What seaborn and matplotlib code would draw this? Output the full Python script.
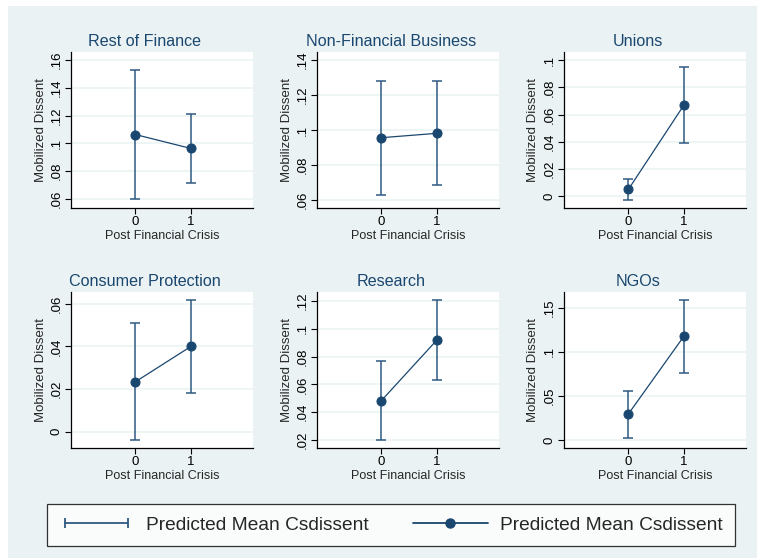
import matplotlib
matplotlib.use("Agg")
import matplotlib.pyplot as plt
import seaborn as sns
import pandas as pd
from matplotlib.patches import Rectangle
from matplotlib.lines import Line2D
from matplotlib.legend_handler import HandlerLine2D

# panel titles
panels = ["Rest of Finance", "Non-Financial Business", "Unions",
          "Consumer Protection", "Research", "NGOs"]

crisis = [0, 1]

# predicted means (pre, post)
means = [[0.1064, 0.0964],
         [0.0956, 0.0981],
         [0.0051, 0.0669],
         [0.0234, 0.0400],
         [0.0483, 0.0919],
         [0.0297, 0.1176]]

# confidence intervals
lower = [[0.0600, 0.0717],
         [0.0630, 0.0684],
         [-0.0026, 0.0395],
         [-0.0040, 0.0183],
         [0.0198, 0.0630],
         [0.0026, 0.0765]]
upper = [[0.1529, 0.1212],
         [0.1280, 0.1280],
         [0.0127, 0.0947],
         [0.0509, 0.0619],
         [0.0771, 0.1205],
         [0.0561, 0.1586]]

# y ticks and labels per panel
yticks = [[0.06, 0.08, 0.10, 0.12, 0.14, 0.16],
          [0.06, 0.08, 0.10, 0.12, 0.14],
          [0, 0.02, 0.04, 0.06, 0.08, 0.10],
          [0, 0.02, 0.04, 0.06],
          [0.02, 0.04, 0.06, 0.08, 0.10, 0.12],
          [0, 0.05, 0.10, 0.15]]
ylabels = [[".06", ".08", ".1", ".12", ".14", ".16"],
           [".06", ".08", ".1", ".12", ".14"],
           ["0", ".02", ".04", ".06", ".08", ".1"],
           ["0", ".02", ".04", ".06"],
           [".02", ".04", ".06", ".08", ".1", ".12"],
           ["0", ".05", ".1", ".15"]]
ylims = [(0.0536, 0.1657), (0.0554, 0.1446), (-0.0085, 0.1059),
         (-0.0077, 0.0656), (0.0142, 0.1265), (-0.0087, 0.1677)]

navy = "#1a476f"
ci_col = "#2f5a82"
bg = "#eaf2f3"

sns.set_style("white")
plt.rcParams["font.family"] = ["Liberation Sans", "DejaVu Sans"]

W, H = 757, 558
fig = plt.figure(figsize=(W / 100, H / 100), dpi=100)
fig.patch.set_facecolor("white")
fig.add_artist(Rectangle((8 / W, 0), 1 - 8 / W, 1 - 6 / H, transform=fig.transFigure,
                         facecolor=bg, edgecolor="none", zorder=-10))

lefts = [71, 317, 564]
tops = [52, 292]
title_y = [41, 281]
aw, ah = 182, 156

for i, name in enumerate(panels):
    r, c = divmod(i, 3)
    ax = fig.add_axes([lefts[c] / W, 1 - (tops[r] + ah) / H, aw / W, ah / H])
    ax.set_facecolor("white")
    df = pd.DataFrame({"crisis": crisis, "mean": means[i]})

    ax.errorbar(crisis, means[i],
                yerr=[[m - l for m, l in zip(means[i], lower[i])],
                      [u - m for m, u in zip(means[i], upper[i])]],
                fmt="none", ecolor=ci_col, elinewidth=1.1, capsize=3.5, capthick=1.1, zorder=2)
    sns.lineplot(data=df, x="crisis", y="mean", ax=ax, color=navy, linewidth=0.9,
                 marker="o", markersize=6.5, markeredgecolor=navy, markerfacecolor=navy, zorder=3)

    ax.set_xlim(-1.16, 2.12)
    ax.set_ylim(*ylims[i])
    ax.set_xticks([0, 1])
    ax.set_xticklabels(["0", "1"])
    ax.set_yticks(yticks[i])
    ax.set_yticklabels(ylabels[i], rotation=90, va="center")
    ax.grid(axis="y", color=bg, linewidth=1.1)
    ax.grid(axis="x", visible=False)
    for s in ["top", "right"]:
        ax.spines[s].set_visible(False)
    for s in ["left", "bottom"]:
        ax.spines[s].set_color("black")
        ax.spines[s].set_linewidth(0.9)
    ax.tick_params(axis="both", direction="out", length=4, width=0.8, color="black",
                   labelsize=9.5, labelcolor="black", left=True, bottom=True, pad=2)
    ax.set_xlabel("Post Financial Crisis", fontsize=9, labelpad=1)
    ax.set_ylabel("Mobilized Dissent", fontsize=9.5, labelpad=3)
    # title centred over the whole cell, y labels included
    cx = (lefts[c] - 34 + lefts[c] + aw) / 2
    fig.text(cx / W, 1 - title_y[r] / H, name, fontsize=11.6, color=navy,
             ha="center", va="center")

h1 = Line2D([0], [0], color=ci_col, linewidth=1.3, marker="|", markersize=7,
            markeredgewidth=1.3)
h2 = Line2D([0], [0], color=navy, linewidth=1.3, marker="o", markersize=6.5)
leg = fig.legend([h1, h2], ["Predicted Mean Csdissent", "Predicted Mean Csdissent"],
                 loc="center", bbox_to_anchor=(391 / W, 1 - 525 / H), ncol=2,
                 fontsize=13.8, frameon=True, fancybox=False, edgecolor="black",
                 handlelength=3.9, columnspacing=2.3, handletextpad=0.65,
                 borderpad=0.62, borderaxespad=0,
                 handler_map={h1: HandlerLine2D(numpoints=2), h2: HandlerLine2D(numpoints=1)})
leg.get_frame().set_linewidth(0.9)
leg.get_frame().set_facecolor("white")

fig.savefig("out.png", dpi=100, facecolor=fig.get_facecolor())
